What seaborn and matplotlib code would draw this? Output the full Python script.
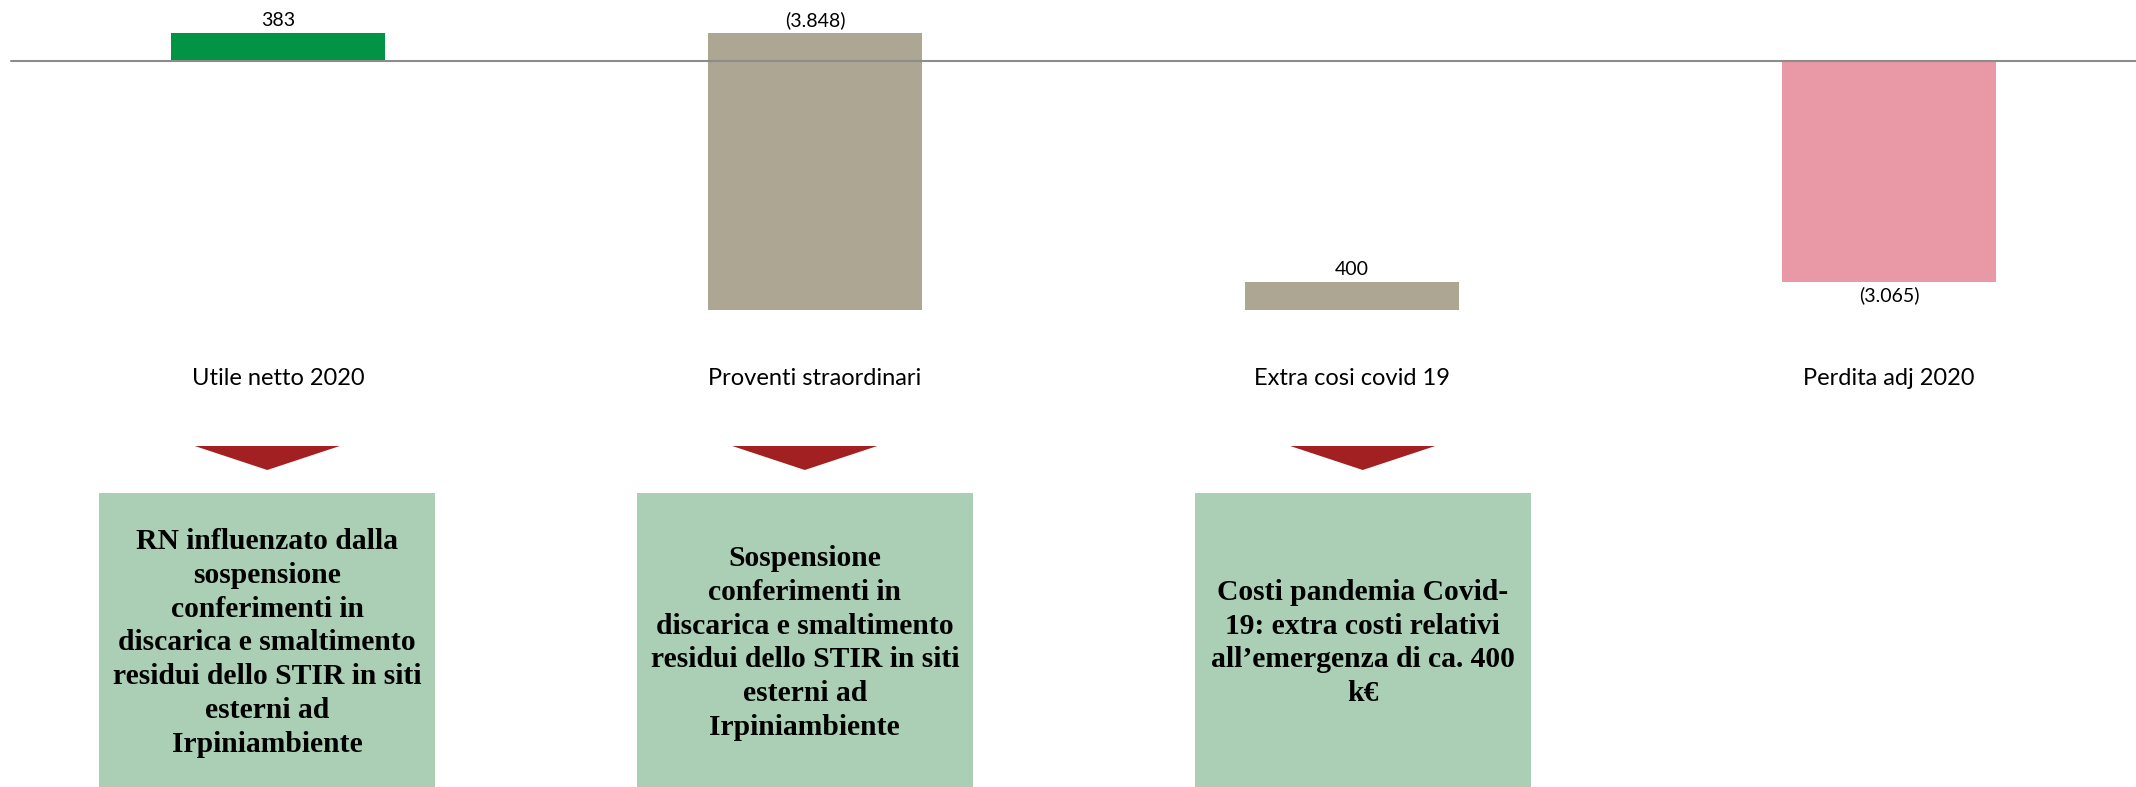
import numpy as np
import matplotlib
matplotlib.use("Agg")
import matplotlib.pyplot as plt
from matplotlib.patches import Polygon, Rectangle
import seaborn as sns

# Data (k€)
categories = ["Utile netto 2020", "Proventi straordinari", "Extra cosi covid 19", "Perdita adj 2020"]
values = [383, -3848, 400, -3065]
is_total = [False, False, False, True]
label_side = ["above", "above", "above", "below"]
bar_colors = ["#009444", "#ADA692", "#ADA692", "#E899A5"]

box_texts = [
    "RN influenzato dalla\nsospensione\nconferimenti in\ndiscarica e smaltimento\nresidui dello STIR in siti\nesterni ad\nIrpiniambiente",
    "Sospensione\nconferimenti in\ndiscarica e smaltimento\nresidui dello STIR in siti\nesterni ad\nIrpiniambiente",
    "Costi pandemia Covid-\n19: extra costi relativi\nall\u2019emergenza di ca. 400\nk\u20ac",
]
box_offsets = [-0.02, -0.019, 0.02]

# waterfall bottoms
bottoms = []
running = 0
for v, tot in zip(values, is_total):
    if tot:
        bottoms.append(0)
    else:
        bottoms.append(running)
        running += v


def fmt(v):
    s = f"{abs(v):,}".replace(",", ".")
    return f"({s})" if v < 0 else s


sns.set_style("white")
plt.rcParams["font.family"] = ["Lato", "DejaVu Sans"]
plt.rcParams["text.color"] = "black"
plt.rcParams["xtick.color"] = "black"

W, H = 2136, 787
fig = plt.figure(figsize=(W / 100, H / 100), dpi=100)
xlim = (-278 / 537, (W - 278) / 537)

# chart area
ax = fig.add_axes([0, (H - 340) / H, 1, 340 / H])
sns.barplot(x=categories, y=values, bottom=bottoms, width=0.4, color="gray",
            ax=ax, zorder=2)
for patch, c in zip(ax.patches, bar_colors):
    patch.set_facecolor(c)
    patch.set_edgecolor("none")
ax.set_xlim(*xlim)
ax.set_ylim(-(340 - 61) / 0.072, 61 / 0.072)
ax.axhline(0, xmin=11 / W, color="#8C8C8C", lw=1.5, zorder=3)

for i, (v, b) in enumerate(zip(values, bottoms)):
    top = max(b, b + v)
    low = min(b, b + v)
    if label_side[i] == "above":
        ax.annotate(fmt(v), (i, top), xytext=(0, 3), textcoords="offset points",
                    ha="center", va="bottom", fontsize=14)
    else:
        ax.annotate(fmt(v), (i, low), xytext=(0, -3), textcoords="offset points",
                    ha="center", va="top", fontsize=14)

ax.set_yticks([])
ax.set_xlabel("")
ax.set_ylabel("")
ax.tick_params(axis="x", length=0, pad=20, labelsize=17)
sns.despine(ax=ax, left=True, bottom=True)

# boxes with comments below
ax2 = fig.add_axes([0, 0, 1, (H - 430) / H])
ax2.set_xlim(*xlim)
ax2.set_ylim(H, 430)
ax2.axis("off")
tri_w = 145 / 537
box_w = 336 / 537
for i, (txt, off) in enumerate(zip(box_texts, box_offsets)):
    cx = i + off
    ax2.add_patch(Polygon([[cx - tri_w / 2, 446], [cx + tri_w / 2, 446], [cx, 470]],
                          closed=True, facecolor="#A21F22", edgecolor="none"))
    ax2.add_patch(Rectangle((cx - box_w / 2, 493), box_w, 320,
                            facecolor="#ABCFB5", edgecolor="none"))
    ax2.text(cx, 643, txt, ha="center", va="center", fontsize=21.3,
             fontweight="bold", family=["Liberation Serif", "DejaVu Serif"],
             linespacing=1.32, color="black")

fig.savefig("out.png", dpi=100)
